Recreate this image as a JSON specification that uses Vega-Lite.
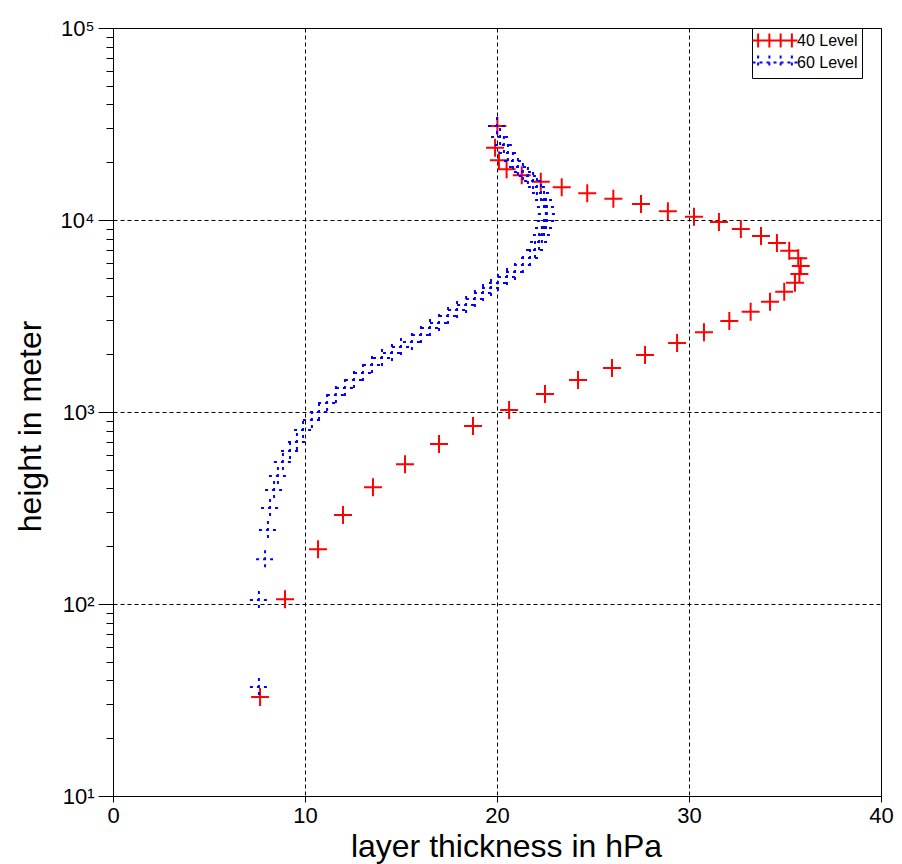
{
  "$schema": "https://vega.github.io/schema/vega-lite/v6.json",
  "width": 768,
  "height": 768,
  "autosize": "none",
  "padding": {"left": 113, "top": 28, "right": 21, "bottom": 68},
  "background": "white",
  "config": {
    "view": {"stroke": "#000000", "strokeWidth": 1},
    "font": "Liberation Sans",
    "axis": {
      "domainColor": "#000000", "tickColor": "#000000", "labelColor": "#000000", "titleColor": "#000000",
      "labelFont": "Liberation Sans", "titleFont": "Liberation Sans", "titleFontWeight": "normal",
      "labelFlush": false, "labelOverlap": false, "gridColor": "#000000", "gridDash": [4, 3], "gridWidth": 1
    },
    "legend": {
      "orient": "none", "legendX": 639, "legendY": 0, "fillColor": "white", "strokeColor": "#000000", "padding": 4,
      "symbolType": "M-3,0H3M-2.25,-0.93V0.93M-0.75,-0.93V0.93M0.75,-0.93V0.93M2.25,-0.93V0.93",
      "symbolSize": 225, "symbolStrokeWidth": 2, "symbolOffset": 10.5,
      "labelFont": "Liberation Sans", "labelFontSize": 16, "labelOffset": 13.5, "rowPadding": -1,
      "encode": {"labels": {"update": {
        "fill": {"signal": "datum.value === '40 Level' ? '#ff0000' : '#0000ff'"},
        "text": {"signal": "datum.label + '\u2007\u2007'"}
      }}}
    }
  },
  "data": {"values": [
    {"series": "40 Level", "thickness": 20.02, "height": 30900},
    {"series": "40 Level", "thickness": 19.90, "height": 23800},
    {"series": "40 Level", "thickness": 20.10, "height": 20500},
    {"series": "40 Level", "thickness": 20.50, "height": 18400},
    {"series": "40 Level", "thickness": 21.29, "height": 17100},
    {"series": "40 Level", "thickness": 22.28, "height": 15800},
    {"series": "40 Level", "thickness": 23.37, "height": 14800},
    {"series": "40 Level", "thickness": 24.70, "height": 13800},
    {"series": "40 Level", "thickness": 26.06, "height": 12900},
    {"series": "40 Level", "thickness": 27.50, "height": 12100},
    {"series": "40 Level", "thickness": 28.90, "height": 11100},
    {"series": "40 Level", "thickness": 30.26, "height": 10400},
    {"series": "40 Level", "thickness": 31.56, "height": 9770},
    {"series": "40 Level", "thickness": 32.70, "height": 8980},
    {"series": "40 Level", "thickness": 33.75, "height": 8250},
    {"series": "40 Level", "thickness": 34.58, "height": 7590},
    {"series": "40 Level", "thickness": 35.22, "height": 6918},
    {"series": "40 Level", "thickness": 35.69, "height": 6318},
    {"series": "40 Level", "thickness": 35.82, "height": 5754},
    {"series": "40 Level", "thickness": 35.75, "height": 5230},
    {"series": "40 Level", "thickness": 35.52, "height": 4715},
    {"series": "40 Level", "thickness": 34.96, "height": 4233},
    {"series": "40 Level", "thickness": 34.22, "height": 3754},
    {"series": "40 Level", "thickness": 33.21, "height": 3330},
    {"series": "40 Level", "thickness": 32.10, "height": 2978},
    {"series": "40 Level", "thickness": 30.78, "height": 2600},
    {"series": "40 Level", "thickness": 29.38, "height": 2287},
    {"series": "40 Level", "thickness": 27.71, "height": 1981},
    {"series": "40 Level", "thickness": 25.99, "height": 1695},
    {"series": "40 Level", "thickness": 24.22, "height": 1468},
    {"series": "40 Level", "thickness": 22.50, "height": 1241},
    {"series": "40 Level", "thickness": 20.63, "height": 1024},
    {"series": "40 Level", "thickness": 18.75, "height": 845},
    {"series": "40 Level", "thickness": 16.98, "height": 681},
    {"series": "40 Level", "thickness": 15.21, "height": 535},
    {"series": "40 Level", "thickness": 13.54, "height": 406},
    {"series": "40 Level", "thickness": 11.98, "height": 291},
    {"series": "40 Level", "thickness": 10.68, "height": 193},
    {"series": "40 Level", "thickness": 8.96, "height": 106},
    {"series": "40 Level", "thickness": 7.66, "height": 32.8},
    {"series": "60 Level", "thickness": 7.60, "height": 37},
    {"series": "60 Level", "thickness": 7.60, "height": 105},
    {"series": "60 Level", "thickness": 7.92, "height": 171},
    {"series": "60 Level", "thickness": 8.07, "height": 243},
    {"series": "60 Level", "thickness": 8.18, "height": 316},
    {"series": "60 Level", "thickness": 8.39, "height": 392},
    {"series": "60 Level", "thickness": 8.59, "height": 464},
    {"series": "60 Level", "thickness": 8.85, "height": 549},
    {"series": "60 Level", "thickness": 9.22, "height": 626},
    {"series": "60 Level", "thickness": 9.58, "height": 698},
    {"series": "60 Level", "thickness": 9.90, "height": 806},
    {"series": "60 Level", "thickness": 10.36, "height": 908},
    {"series": "60 Level", "thickness": 10.73, "height": 1000},
    {"series": "60 Level", "thickness": 11.15, "height": 1114},
    {"series": "60 Level", "thickness": 11.61, "height": 1227},
    {"series": "60 Level", "thickness": 12.08, "height": 1334},
    {"series": "60 Level", "thickness": 12.55, "height": 1468},
    {"series": "60 Level", "thickness": 13.02, "height": 1596},
    {"series": "60 Level", "thickness": 13.49, "height": 1757},
    {"series": "60 Level", "thickness": 14.01, "height": 1911},
    {"series": "60 Level", "thickness": 14.53, "height": 2029},
    {"series": "60 Level", "thickness": 15.00, "height": 2181},
    {"series": "60 Level", "thickness": 15.57, "height": 2316},
    {"series": "60 Level", "thickness": 16.04, "height": 2519},
    {"series": "60 Level", "thickness": 16.51, "height": 2738},
    {"series": "60 Level", "thickness": 16.98, "height": 2909},
    {"series": "60 Level", "thickness": 17.45, "height": 3162},
    {"series": "60 Level", "thickness": 17.92, "height": 3398},
    {"series": "60 Level", "thickness": 18.39, "height": 3610},
    {"series": "60 Level", "thickness": 18.85, "height": 3879},
    {"series": "60 Level", "thickness": 19.27, "height": 4169},
    {"series": "60 Level", "thickness": 19.69, "height": 4425},
    {"series": "60 Level", "thickness": 20.05, "height": 4695},
    {"series": "60 Level", "thickness": 20.52, "height": 5046},
    {"series": "60 Level", "thickness": 20.94, "height": 5358},
    {"series": "60 Level", "thickness": 21.35, "height": 5832},
    {"series": "60 Level", "thickness": 21.72, "height": 6345},
    {"series": "60 Level", "thickness": 21.98, "height": 6985},
    {"series": "60 Level", "thickness": 22.19, "height": 7682},
    {"series": "60 Level", "thickness": 22.34, "height": 8351},
    {"series": "60 Level", "thickness": 22.45, "height": 9085},
    {"series": "60 Level", "thickness": 22.55, "height": 9884},
    {"series": "60 Level", "thickness": 22.60, "height": 10750},
    {"series": "60 Level", "thickness": 22.55, "height": 11690},
    {"series": "60 Level", "thickness": 22.45, "height": 12700},
    {"series": "60 Level", "thickness": 22.29, "height": 13830},
    {"series": "60 Level", "thickness": 22.08, "height": 14860},
    {"series": "60 Level", "thickness": 21.88, "height": 15970},
    {"series": "60 Level", "thickness": 21.61, "height": 16940},
    {"series": "60 Level", "thickness": 21.35, "height": 17780},
    {"series": "60 Level", "thickness": 21.09, "height": 18880},
    {"series": "60 Level", "thickness": 20.83, "height": 20290},
    {"series": "60 Level", "thickness": 20.57, "height": 22330},
    {"series": "60 Level", "thickness": 20.36, "height": 24590},
    {"series": "60 Level", "thickness": 20.16, "height": 27060},
    {"series": "60 Level", "thickness": 20.00, "height": 30900}
  ]},
  "mark": {"type": "point", "shape": "M-1,0H1M0,-1V1", "size": 324, "strokeWidth": 2, "filled": false, "opacity": 1},
  "encoding": {
    "x": {
      "field": "thickness", "type": "quantitative",
      "scale": {"domain": [0, 40], "nice": false, "zero": false},
      "axis": {
        "title": "layer thickness in hPa", "values": [0, 10, 20, 30, 40], "grid": true,
        "tickSize": 6, "labelPadding": 3, "labelFontSize": 22, "titleFontSize": 32,
        "titleX": 393, "titleY": 60, "titleBaseline": "alphabetic"
      }
    },
    "y": {
      "field": "height", "type": "quantitative",
      "scale": {"type": "log", "domain": [10, 100000], "nice": false},
      "axis": {
        "title": "height in meter",
        "values": [10, 20, 30, 40, 50, 60, 70, 80, 90, 100, 200, 300, 400, 500, 600, 700, 800, 900, 1000, 2000, 3000, 4000, 5000, 6000, 7000, 8000, 9000, 10000, 20000, 30000, 40000, 50000, 60000, 70000, 80000, 90000, 100000],
        "labelExpr": "datum.value == 10 ? '10¹' : datum.value == 100 ? '10²' : datum.value == 1000 ? '10³' : datum.value == 10000 ? '10⁴' : datum.value == 100000 ? '10⁵' : ''",
        "grid": true,
        "gridOpacity": {"condition": {"test": "indexof([10, 100, 1000, 10000, 100000], datum.value) >= 0", "value": 1}, "value": 0},
        "tickSize": {"condition": {"test": "indexof([10, 100, 1000, 10000, 100000], datum.value) >= 0", "value": 15}, "value": 7},
        "labelPadding": 4, "labelFontSize": 22, "labelBaseline": "middle", "titleFontSize": 32,
        "titleX": -73, "titleY": 398, "titleBaseline": "alphabetic", "titleAngle": -90
      }
    },
    "color": {
      "field": "series", "type": "nominal", "title": null,
      "scale": {"domain": ["40 Level", "60 Level"], "range": ["#ff0000", "#0000ff"]}
    },
    "strokeDash": {
      "field": "series", "type": "nominal", "title": null,
      "scale": {"domain": ["40 Level", "60 Level"], "range": [[1, 0], [3, 4]]}
    }
  }
}
